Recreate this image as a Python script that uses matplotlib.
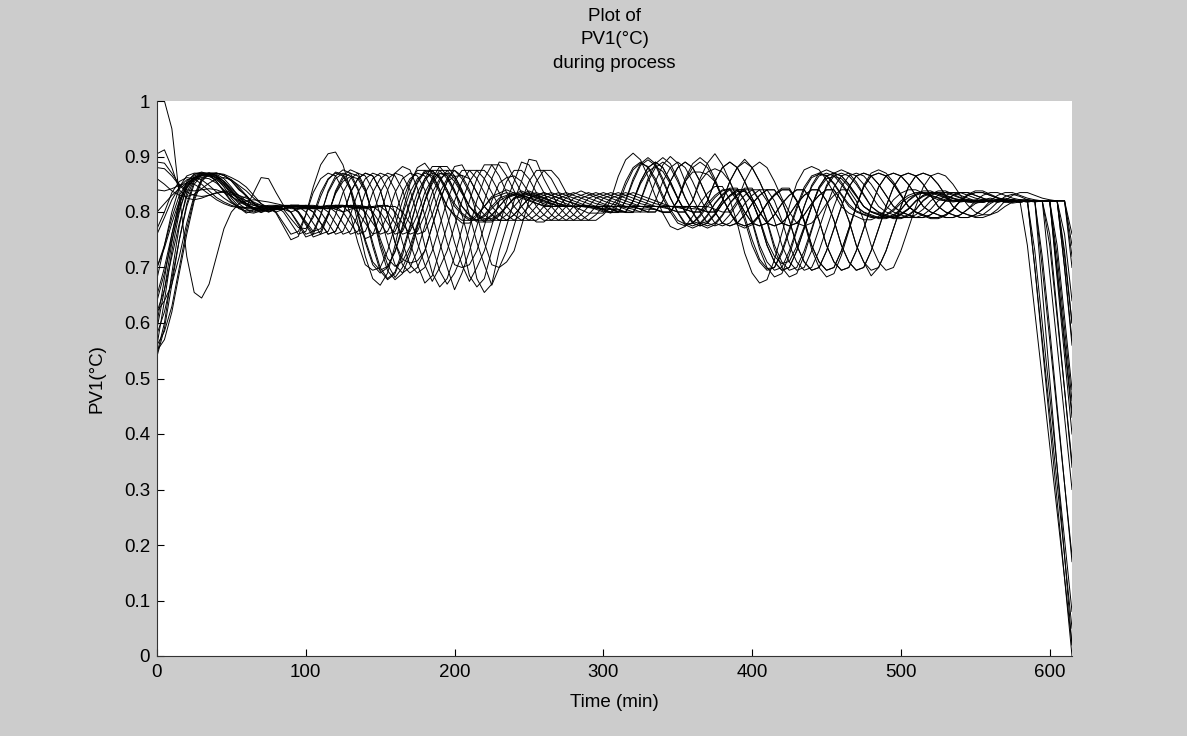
import numpy as np
import matplotlib
matplotlib.use("Agg")
import matplotlib.pyplot as plt
from matplotlib.ticker import FormatStrFormatter

# PV1 per batch, every 5 min (values in 0.001 degC units)
time_min = np.arange(0, 620, 5)

b01 = [560, 640, 730, 800, 845, 865, 870, 870, 865, 850, 830, 815,
       805, 800, 805, 810, 810, 800, 780, 760, 765, 795, 835, 860,
       870, 865, 840, 795, 745, 705, 690, 700, 730, 775, 820, 855,
       875, 875, 860, 835, 810, 795, 785, 785, 795, 810, 825, 830,
       835, 830, 825, 820, 815, 810, 810, 810, 810, 810, 810, 805,
       800, 800, 820, 855, 880, 890, 880, 855, 825, 800, 780, 775,
       780, 795, 815, 830, 840, 840, 820, 785, 740, 710, 695, 700,
       730, 770, 810, 845, 865, 870, 865, 850, 830, 810, 800, 795,
       790, 790, 795, 805, 820, 830, 835, 835, 830, 825, 820, 820,
       818, 820, 822, 820, 818, 820, 822, 820, 820, 820, 820, 660,
       500, 340, 180, 20]
b02 = [540, 590, 670, 750, 815, 855, 868, 870, 868, 860, 845, 828,
       815, 805, 800, 805, 810, 810, 800, 780, 760, 765, 795, 835,
       860, 870, 865, 840, 795, 745, 700, 680, 692, 730, 775, 820,
       855, 875, 875, 860, 835, 810, 795, 785, 785, 795, 810, 825,
       830, 835, 830, 825, 820, 815, 810, 810, 810, 810, 810, 810,
       805, 800, 800, 820, 855, 884, 894, 884, 855, 825, 800, 780,
       775, 780, 795, 815, 830, 840, 840, 820, 785, 740, 710, 695,
       700, 730, 770, 810, 845, 865, 870, 865, 850, 830, 810, 800,
       795, 790, 790, 795, 805, 820, 830, 835, 835, 830, 825, 820,
       820, 818, 820, 822, 820, 818, 820, 822, 820, 820, 820, 700,
       570, 440, 310, 180]
b03 = [600, 680, 760, 820, 855, 868, 870, 868, 860, 845, 825, 810,
       800, 798, 802, 808, 812, 805, 788, 772, 770, 790, 828, 858,
       872, 868, 845, 800, 750, 710, 695, 702, 728, 770, 815, 852,
       872, 874, 862, 840, 815, 798, 788, 786, 792, 806, 820, 828,
       832, 830, 826, 822, 818, 814, 812, 810, 810, 812, 812, 808,
       802, 798, 812, 848, 876, 888, 882, 860, 830, 805, 785, 778,
       780, 792, 810, 826, 838, 842, 825, 792, 750, 715, 698, 700,
       725, 765, 805, 840, 862, 868, 866, 852, 832, 814, 802, 796,
       792, 790, 794, 802, 816, 826, 832, 834, 830, 826, 822, 820,
       822, 820, 818, 820, 822, 820, 820, 818, 820, 822, 700, 560,
       420, 280, 140, 0]
b04 = [580, 620, 680, 750, 810, 850, 866, 870, 870, 866, 856, 840,
       830, 815, 805, 800, 805, 810, 810, 800, 780, 760, 765, 795,
       835, 860, 870, 865, 840, 795, 745, 705, 682, 700, 730, 775,
       820, 855, 875, 875, 860, 835, 810, 795, 785, 785, 795, 810,
       825, 830, 835, 830, 825, 820, 815, 810, 810, 810, 810, 810,
       810, 805, 800, 800, 820, 855, 880, 890, 880, 855, 825, 800,
       780, 775, 780, 795, 815, 830, 840, 840, 820, 785, 740, 710,
       695, 700, 730, 770, 810, 845, 865, 870, 865, 850, 830, 810,
       800, 795, 790, 790, 795, 805, 820, 830, 835, 835, 830, 825,
       820, 820, 818, 820, 822, 820, 818, 820, 822, 820, 820, 820,
       820, 690, 560, 430]
b05 = [650, 700, 760, 815, 848, 862, 866, 866, 862, 852, 838, 822,
       816, 804, 799, 804, 810, 810, 799, 777, 755, 760, 793, 838,
       865, 876, 870, 843, 793, 738, 694, 678, 689, 722, 771, 821,
       860, 882, 882, 865, 838, 810, 793, 782, 782, 793, 810, 826,
       832, 838, 832, 826, 821, 816, 810, 810, 810, 810, 810, 810,
       804, 799, 799, 821, 860, 887, 898, 887, 860, 826, 799, 777,
       771, 777, 793, 816, 832, 843, 843, 821, 782, 733, 700, 683,
       689, 722, 766, 810, 848, 870, 876, 870, 854, 832, 810, 799,
       793, 788, 788, 793, 804, 821, 832, 838, 838, 832, 826, 821,
       820, 822, 820, 818, 820, 820, 822, 820, 818, 820, 820, 720,
       590, 450, 310, 170]
b06 = [550, 570, 620, 690, 760, 820, 855, 868, 870, 868, 862, 855,
       845, 830, 815, 805, 800, 805, 810, 810, 800, 780, 760, 765,
       795, 835, 860, 870, 865, 840, 795, 745, 705, 690, 700, 730,
       775, 820, 855, 875, 875, 860, 835, 810, 795, 785, 785, 795,
       810, 825, 830, 835, 830, 825, 820, 815, 810, 810, 810, 810,
       810, 810, 805, 800, 800, 820, 855, 880, 890, 880, 855, 825,
       800, 780, 775, 780, 795, 815, 830, 840, 840, 820, 785, 740,
       710, 695, 700, 730, 770, 810, 845, 865, 870, 865, 850, 830,
       810, 800, 795, 790, 790, 795, 805, 820, 830, 835, 835, 830,
       825, 820, 820, 818, 820, 822, 820, 820, 818, 820, 820, 820,
       820, 820, 700, 560]
b07 = [700, 740, 790, 830, 852, 862, 865, 864, 858, 848, 835, 822,
       828, 815, 805, 801, 806, 810, 810, 801, 783, 765, 770, 797,
       833, 855, 864, 860, 837, 797, 752, 716, 702, 711, 738, 779,
       819, 851, 869, 869, 855, 833, 810, 797, 788, 788, 797, 810,
       824, 828, 833, 828, 824, 819, 815, 810, 810, 810, 810, 810,
       810, 806, 801, 801, 819, 851, 873, 882, 873, 851, 824, 801,
       783, 779, 783, 797, 815, 828, 837, 837, 819, 788, 747, 720,
       707, 711, 738, 774, 810, 842, 860, 864, 860, 846, 828, 810,
       801, 797, 792, 792, 797, 806, 819, 828, 833, 833, 828, 824,
       820, 818, 816, 818, 820, 820, 818, 816, 818, 820, 700, 570,
       440, 310, 180, 50]
b08 = [620, 640, 670, 720, 780, 830, 860, 870, 870, 866, 858, 845,
       830, 815, 805, 800, 805, 810, 810, 810, 810, 800, 780, 760,
       765, 795, 835, 860, 870, 865, 840, 795, 745, 705, 690, 700,
       730, 775, 820, 855, 882, 885, 860, 835, 810, 795, 785, 785,
       795, 810, 825, 830, 835, 830, 825, 820, 815, 810, 810, 810,
       810, 810, 810, 805, 800, 800, 820, 855, 885, 900, 888, 855,
       825, 800, 780, 775, 780, 795, 815, 830, 840, 840, 820, 785,
       740, 710, 695, 700, 730, 770, 810, 845, 865, 870, 865, 850,
       830, 810, 800, 795, 790, 790, 795, 805, 820, 830, 835, 835,
       830, 825, 820, 818, 820, 822, 820, 818, 820, 822, 820, 820,
       760, 620, 480, 340]
b09 = [860, 850, 838, 830, 828, 832, 842, 852, 860, 862, 858, 848,
       838, 825, 815, 808, 805, 805, 808, 810, 810, 810, 810, 800,
       780, 760, 765, 795, 835, 860, 870, 865, 840, 795, 745, 705,
       672, 685, 730, 775, 820, 855, 875, 875, 860, 835, 810, 795,
       785, 785, 795, 810, 825, 830, 835, 830, 825, 820, 815, 810,
       810, 810, 810, 810, 810, 805, 800, 800, 820, 855, 880, 890,
       880, 855, 825, 800, 780, 775, 780, 795, 815, 830, 840, 840,
       820, 785, 740, 710, 695, 700, 730, 770, 810, 845, 865, 870,
       865, 850, 830, 810, 800, 795, 790, 790, 795, 805, 820, 830,
       835, 835, 830, 825, 820, 818, 820, 822, 820, 820, 818, 820,
       820, 820, 820, 700]
b10 = [905, 912, 880, 840, 825, 822, 825, 830, 835, 838, 835, 830,
       825, 818, 812, 808, 806, 806, 808, 810, 812, 812, 810, 810,
       810, 800, 780, 760, 765, 795, 835, 860, 870, 865, 840, 795,
       740, 690, 665, 680, 720, 770, 820, 860, 885, 885, 865, 835,
       810, 795, 785, 785, 795, 810, 825, 830, 835, 830, 825, 820,
       815, 810, 810, 810, 810, 810, 810, 805, 800, 800, 820, 855,
       880, 890, 880, 855, 825, 800, 780, 775, 780, 795, 815, 830,
       840, 840, 820, 785, 740, 710, 695, 700, 730, 770, 810, 845,
       865, 870, 865, 850, 830, 810, 800, 795, 790, 790, 795, 805,
       820, 830, 835, 835, 830, 825, 820, 820, 818, 820, 820, 820,
       820, 680, 540, 400]
b11 = [1000, 1000, 950, 830, 720, 655, 645, 670, 720, 770, 800, 815,
       820, 822, 820, 818, 815, 812, 810, 808, 808, 810, 810, 810,
       805, 810, 810, 800, 780, 760, 765, 795, 835, 860, 870, 865,
       840, 795, 745, 700, 660, 690, 730, 775, 820, 860, 890, 888,
       860, 835, 810, 795, 785, 785, 795, 810, 825, 830, 835, 830,
       825, 820, 815, 810, 810, 810, 810, 810, 810, 805, 800, 800,
       820, 860, 888, 905, 885, 855, 825, 800, 780, 775, 780, 795,
       815, 830, 840, 840, 820, 785, 740, 710, 695, 700, 730, 770,
       810, 845, 865, 870, 865, 850, 830, 810, 800, 795, 790, 790,
       795, 805, 815, 822, 825, 822, 820, 818, 820, 820, 820, 820,
       690, 560, 430, 300]
b12 = [770, 800, 835, 855, 862, 860, 850, 838, 826, 818, 812, 808,
       808, 835, 862, 860, 835, 812, 806, 806, 806, 806, 808, 810,
       805, 800, 805, 810, 810, 800, 780, 760, 765, 795, 835, 860,
       870, 865, 840, 795, 745, 705, 675, 700, 730, 775, 820, 855,
       875, 875, 860, 835, 810, 795, 785, 785, 795, 810, 825, 830,
       835, 830, 825, 820, 815, 810, 810, 810, 810, 810, 810, 805,
       800, 800, 820, 855, 880, 890, 880, 855, 825, 800, 780, 775,
       780, 795, 815, 830, 840, 840, 820, 785, 740, 710, 695, 700,
       730, 770, 810, 845, 865, 870, 865, 850, 830, 810, 800, 795,
       790, 790, 795, 805, 815, 822, 825, 822, 820, 818, 820, 820,
       820, 820, 760, 640]
b13 = [840, 838, 842, 848, 852, 850, 842, 832, 822, 815, 810, 808,
       806, 806, 808, 810, 810, 812, 812, 810, 808, 806, 806, 808,
       810, 810, 812, 812, 810, 808, 810, 800, 780, 760, 765, 795,
       835, 860, 870, 865, 840, 795, 745, 680, 655, 670, 730, 775,
       820, 855, 895, 892, 860, 835, 810, 795, 785, 785, 795, 810,
       825, 830, 835, 830, 825, 820, 815, 810, 810, 810, 810, 810,
       810, 805, 800, 800, 820, 855, 880, 890, 880, 855, 825, 800,
       780, 775, 780, 795, 815, 830, 840, 840, 820, 785, 740, 710,
       695, 700, 730, 770, 810, 845, 865, 870, 865, 850, 830, 810,
       800, 795, 792, 795, 805, 818, 828, 832, 828, 822, 820, 820,
       820, 720, 590, 460]
b14 = [890, 888, 870, 850, 840, 838, 840, 842, 840, 835, 828, 820,
       815, 812, 810, 808, 808, 810, 812, 812, 810, 808, 808, 810,
       812, 812, 810, 808, 808, 810, 812, 810, 810, 800, 780, 760,
       765, 795, 835, 860, 875, 865, 840, 795, 745, 705, 700, 710,
       730, 775, 820, 855, 875, 875, 860, 835, 810, 795, 785, 785,
       795, 810, 825, 830, 835, 830, 825, 820, 815, 810, 810, 810,
       810, 810, 810, 805, 800, 800, 820, 855, 880, 890, 880, 855,
       825, 800, 780, 775, 780, 795, 815, 830, 840, 840, 820, 785,
       740, 710, 695, 700, 730, 770, 810, 845, 865, 870, 865, 850,
       830, 812, 800, 795, 795, 800, 810, 818, 822, 822, 820, 820,
       820, 820, 820, 740]
b15 = [680, 740, 800, 845, 865, 870, 870, 866, 855, 838, 820, 808,
       798, 804, 810, 810, 798, 774, 750, 756, 795, 845, 885, 905,
       908, 885, 840, 780, 720, 680, 668, 690, 740, 800, 850, 880,
       888, 870, 840, 810, 792, 780, 780, 792, 810, 828, 834, 840,
       834, 828, 822, 816, 810, 810, 810, 810, 810, 804, 798, 798,
       798, 822, 864, 894, 906, 894, 864, 828, 798, 774, 768, 774,
       792, 816, 834, 846, 846, 822, 780, 726, 690, 672, 678, 714,
       762, 810, 852, 876, 882, 876, 858, 834, 810, 798, 792, 786,
       786, 792, 804, 822, 834, 840, 840, 834, 828, 822, 820, 818,
       820, 822, 820, 818, 820, 822, 820, 820, 820, 740, 620, 500,
       380, 260, 140, 20]
b16 = [800, 815, 830, 842, 852, 860, 866, 868, 864, 855, 842, 830,
       820, 812, 808, 805, 805, 805, 800, 805, 810, 810, 800, 780,
       760, 765, 795, 835, 860, 870, 865, 840, 795, 745, 705, 690,
       700, 730, 775, 820, 855, 875, 875, 860, 835, 810, 795, 785,
       785, 795, 810, 825, 830, 835, 830, 825, 820, 815, 810, 810,
       810, 810, 810, 810, 810, 805, 800, 800, 820, 855, 880, 890,
       880, 855, 825, 800, 780, 775, 780, 795, 815, 830, 840, 840,
       820, 785, 740, 710, 695, 700, 730, 770, 810, 845, 865, 870,
       865, 850, 830, 810, 800, 795, 790, 790, 795, 805, 820, 830,
       835, 835, 830, 825, 820, 818, 820, 822, 820, 820, 820, 820,
       820, 820, 720, 600]
b17 = [620, 660, 720, 780, 828, 858, 868, 870, 866, 855, 840, 826,
       815, 808, 804, 803, 806, 810, 812, 812, 810, 808, 808, 810,
       800, 780, 760, 765, 795, 835, 860, 870, 865, 840, 795, 745,
       705, 675, 700, 730, 775, 820, 855, 875, 875, 860, 835, 810,
       795, 785, 785, 795, 810, 825, 830, 835, 830, 825, 820, 815,
       812, 810, 810, 808, 805, 800, 800, 820, 855, 880, 890, 880,
       855, 825, 800, 780, 775, 780, 795, 815, 830, 840, 840, 820,
       785, 740, 710, 695, 700, 730, 770, 810, 845, 865, 870, 865,
       850, 830, 810, 800, 795, 790, 790, 795, 805, 820, 830, 835,
       835, 830, 825, 822, 820, 820, 818, 820, 820, 820, 730, 600,
       470, 340, 210, 80]
b18 = [560, 585, 630, 700, 770, 825, 858, 868, 870, 866, 856, 842,
       828, 816, 808, 804, 804, 806, 810, 812, 812, 810, 808, 806,
       808, 810, 798, 776, 752, 758, 795, 840, 870, 882, 876, 843,
       793, 738, 694, 670, 690, 722, 771, 821, 860, 885, 885, 865,
       838, 810, 793, 782, 782, 793, 810, 826, 832, 838, 832, 826,
       820, 815, 812, 810, 810, 810, 808, 804, 799, 799, 821, 860,
       887, 898, 887, 860, 826, 799, 777, 771, 777, 793, 816, 832,
       843, 843, 821, 782, 733, 700, 683, 689, 722, 766, 810, 848,
       870, 876, 870, 854, 832, 810, 799, 793, 788, 788, 793, 804,
       821, 832, 838, 838, 832, 826, 822, 820, 818, 820, 820, 820,
       820, 740, 610, 480]
b19 = [700, 735, 780, 820, 845, 858, 862, 860, 852, 840, 828, 818,
       812, 808, 806, 806, 808, 810, 812, 812, 810, 808, 806, 806,
       808, 810, 812, 810, 800, 780, 760, 765, 795, 835, 860, 870,
       865, 840, 795, 745, 705, 700, 705, 730, 775, 820, 852, 862,
       865, 855, 835, 810, 795, 785, 785, 795, 810, 825, 830, 835,
       830, 825, 820, 815, 812, 810, 810, 810, 808, 805, 800, 800,
       820, 855, 872, 878, 872, 855, 825, 800, 780, 775, 780, 795,
       815, 830, 840, 840, 820, 785, 740, 710, 695, 700, 730, 770,
       810, 845, 865, 870, 865, 850, 830, 810, 800, 795, 790, 790,
       795, 805, 820, 830, 835, 835, 830, 825, 822, 820, 820, 820,
       820, 820, 700, 570]
b20 = [880, 878, 865, 848, 836, 830, 828, 830, 834, 836, 832, 826,
       820, 815, 812, 810, 810, 810, 812, 812, 810, 808, 808, 810,
       812, 812, 810, 808, 808, 810, 800, 780, 760, 765, 795, 835,
       860, 870, 865, 840, 795, 745, 685, 665, 680, 730, 775, 820,
       855, 890, 885, 860, 835, 810, 795, 785, 785, 795, 810, 825,
       830, 835, 830, 825, 820, 815, 812, 810, 810, 810, 808, 805,
       800, 800, 820, 855, 880, 890, 880, 855, 825, 800, 780, 775,
       780, 795, 815, 830, 840, 840, 820, 785, 740, 710, 695, 700,
       730, 770, 810, 845, 865, 870, 865, 850, 830, 810, 800, 795,
       790, 790, 795, 805, 820, 830, 835, 835, 830, 825, 822, 820,
       820, 820, 820, 720]
b21 = [640, 690, 750, 805, 842, 862, 868, 868, 862, 850, 835, 822,
       812, 806, 803, 804, 808, 810, 810, 810, 808, 800, 780, 760,
       765, 795, 835, 860, 870, 865, 840, 795, 745, 715, 708, 712,
       730, 775, 820, 855, 864, 866, 860, 835, 810, 795, 785, 785,
       795, 810, 825, 830, 835, 830, 825, 820, 816, 812, 810, 810,
       810, 810, 810, 810, 808, 806, 805, 805, 800, 800, 820, 855,
       872, 872, 868, 855, 825, 800, 780, 775, 780, 795, 815, 830,
       840, 840, 820, 785, 740, 710, 695, 700, 730, 770, 810, 845,
       865, 870, 865, 850, 830, 810, 800, 795, 790, 790, 795, 805,
       820, 830, 835, 835, 830, 825, 822, 820, 820, 818, 820, 820,
       740, 610, 480, 350]
b22 = [590, 660, 745, 812, 852, 868, 872, 868, 855, 836, 818, 806,
       802, 804, 808, 810, 800, 780, 760, 765, 795, 835, 860, 870,
       865, 840, 795, 745, 705, 695, 700, 730, 775, 820, 855, 875,
       875, 860, 835, 810, 795, 785, 785, 795, 810, 825, 830, 835,
       830, 825, 820, 815, 812, 810, 810, 810, 810, 810, 808, 806,
       805, 805, 800, 800, 820, 855, 880, 890, 880, 855, 825, 800,
       780, 775, 780, 795, 815, 830, 840, 840, 820, 785, 740, 710,
       695, 700, 730, 770, 810, 845, 865, 870, 865, 850, 830, 810,
       800, 795, 790, 790, 795, 805, 820, 830, 835, 835, 830, 825,
       822, 820, 820, 818, 820, 822, 820, 820, 818, 820, 820, 820,
       820, 700, 570, 440]
b23 = [545, 600, 690, 775, 835, 862, 870, 870, 866, 855, 838, 822,
       812, 805, 802, 804, 808, 810, 810, 799, 777, 755, 760, 793,
       838, 865, 876, 870, 843, 793, 738, 694, 678, 689, 722, 771,
       821, 860, 882, 882, 865, 838, 810, 793, 782, 782, 793, 810,
       826, 832, 838, 832, 826, 820, 815, 812, 810, 810, 810, 808,
       806, 805, 804, 799, 799, 821, 860, 887, 898, 887, 860, 826,
       799, 777, 771, 777, 793, 816, 832, 843, 843, 821, 782, 733,
       700, 683, 689, 722, 766, 810, 848, 870, 876, 870, 854, 832,
       810, 799, 793, 788, 788, 793, 804, 821, 832, 838, 838, 832,
       826, 822, 820, 820, 818, 820, 820, 822, 820, 820, 820, 820,
       820, 820, 730, 600]
b24 = [760, 790, 822, 845, 858, 862, 858, 848, 836, 825, 816, 810,
       808, 808, 810, 812, 812, 810, 808, 806, 806, 808, 810, 812,
       812, 810, 808, 806, 806, 808, 810, 812, 800, 780, 760, 765,
       795, 835, 860, 870, 865, 840, 795, 745, 705, 668, 700, 730,
       775, 820, 855, 875, 875, 860, 835, 810, 795, 785, 785, 795,
       810, 825, 830, 835, 830, 825, 820, 815, 812, 810, 810, 808,
       806, 805, 800, 800, 820, 855, 880, 895, 880, 855, 825, 800,
       780, 775, 780, 795, 815, 830, 840, 840, 820, 785, 740, 710,
       685, 700, 730, 770, 810, 845, 865, 870, 865, 850, 830, 810,
       800, 795, 790, 790, 795, 805, 820, 830, 835, 835, 830, 825,
       822, 820, 820, 760]

batches = [b01, b02, b03, b04, b05, b06, b07, b08, b09, b10, b11, b12,
           b13, b14, b15, b16, b17, b18, b19, b20, b21, b22, b23, b24]

plt.rcParams['font.family'] = ['Liberation Sans', 'DejaVu Sans']

fig = plt.figure(figsize=(11.87, 7.36), dpi=100, facecolor='#cccccc')
ax = fig.add_axes([157 / 1187, 80 / 736, 915 / 1187, 555 / 736])

for b in batches:
    ax.plot(time_min, np.array(b) / 1000.0, color='black', lw=0.7)

ax.set_xlim(0, 615)
ax.set_ylim(0, 1)
ax.set_xticks(np.arange(0, 700, 100))
ax.set_yticks(np.arange(0, 1.01, 0.1))
ax.yaxis.set_major_formatter(FormatStrFormatter('%g'))

for side in ('top', 'right'):
    ax.spines[side].set_visible(False)
for side in ('left', 'bottom'):
    ax.spines[side].set_color('#333333')
    ax.spines[side].set_linewidth(0.8)
ax.tick_params(direction='in', length=5, width=0.8, labelsize=13.5,
               colors='black')
ax.tick_params(axis='x', pad=6)
ax.tick_params(axis='y', pad=5)

ax.set_xlabel('Time (min)', fontsize=13.5, labelpad=9)
ax.set_ylabel('PV1(°C)', fontsize=13.5, labelpad=13)
ax.set_title('Plot of\nPV1(°C)\nduring process', fontsize=13.5,
             linespacing=1.5, pad=24)

fig.savefig('out.png', dpi=100, facecolor=fig.get_facecolor())
